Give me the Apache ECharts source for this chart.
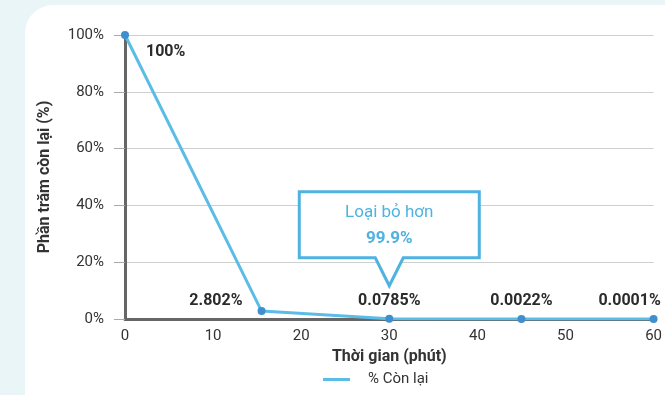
<!DOCTYPE html>
<html><head><meta charset="utf-8">
<script src="https://cdn.jsdelivr.net/npm/echarts@6/dist/echarts.min.js"></script>
<style>html,body{margin:0;padding:0;background:#eaf5f8;}#c{width:665px;height:395px;}</style>
</head><body><div id="c"></div>
<script>
const minutes = [0, 15.5, 30, 45, 60];
const remaining = [100, 2.802, 0.0785, 0.0022, 0.0001];
const pointLabels = ['100%', '2.802%', '0.0785%', '0.0022%', '0.0001%'];
const seriesName = '% Còn lại';
const calloutLine1 = 'Loại bỏ hơn';
const calloutLine2 = '99.9%';
const FONT = '"Roboto", sans-serif';

const chart = echarts.init(document.getElementById('c'));
const labelCfg = [
  {position: 'right', offset: [12, 17]},
  {position: 'left', offset: [-10, -10]},
  {position: 'top', offset: [0, -1]},
  {position: 'top', offset: [0, -1]},
  {position: 'top', offset: [-24, -1]}
];
const data = minutes.map((m, i) => ({
  value: [m, remaining[i]],
  label: Object.assign({show: true, formatter: pointLabels[i]}, labelCfg[i])
}));
const panel = {type: 'rect', z: -10, shape: {x: 25, y: 5, width: 700, height: 440, r: 28}, style: {fill: '#ffffff'}};
chart.setOption({
  backgroundColor: '#eaf5f8',
  graphic: [panel],
  grid: {left: 125, right: 7, top: 35, bottom: 76},
  legend: {bottom: 3, left: 318, itemWidth: 27, itemHeight: 3,
    icon: 'rect', data: [seriesName],
    itemStyle: {color: '#5bbde6'},
    textStyle: {fontFamily: FONT, fontSize: 15, color: '#333', padding: [0, 0, 0, 13]}},
  xAxis: {type: 'value', min: 0, max: 60, interval: 10,
    name: 'Thời gian (phút)', nameLocation: 'middle', nameGap: 30,
    nameTextStyle: {fontFamily: FONT, fontSize: 16, fontWeight: 'bold', color: '#333'},
    axisLine: {lineStyle: {color: '#666', width: 3}},
    axisTick: {show: false},
    axisLabel: {fontFamily: FONT, fontSize: 15, color: '#333', margin: 10},
    splitLine: {show: false}},
  yAxis: {type: 'value', min: 0, max: 100, interval: 20,
    name: 'Phần trăm còn lại (%)', nameLocation: 'middle', nameGap: 72, nameRotate: 90,
    nameTextStyle: {fontFamily: FONT, fontSize: 16, fontWeight: 'bold', color: '#333'},
    axisLine: {show: true, lineStyle: {color: '#666', width: 3}},
    axisTick: {show: true, length: 11, lineStyle: {color: '#aaa'}},
    axisLabel: {fontFamily: FONT, fontSize: 15, color: '#333', margin: 21, formatter: '{value}%'},
    splitLine: {lineStyle: {color: '#cfcfcf', width: 1}}},
  series: [{
    name: seriesName, type: 'line', data: data,
    lineStyle: {color: '#5bbde6', width: 3},
    itemStyle: {color: '#3f8fcf'},
    symbol: 'circle', symbolSize: 8,
    label: {fontFamily: FONT, fontSize: 16, fontWeight: 'bold', color: '#2b2b2b'}
  }]
});

const p = chart.convertToPixel({gridIndex: 0}, [minutes[2], remaining[2]]);
const tipX = p[0], tipY = p[1] - 33;
const bw = 180, bh = 66, boxBottom = tipY - 28, boxTop = boxBottom - bh;
const L = tipX - bw / 2, R = tipX + bw / 2;
chart.setOption({
  graphic: [
    panel,
    {type: 'polygon', z: 50, shape: {points: [[L, boxTop], [R, boxTop], [R, boxBottom], [tipX + 14, boxBottom], [tipX, tipY], [tipX - 14, boxBottom], [L, boxBottom]]},
     style: {fill: '#ffffff', stroke: '#4fb3e0', lineWidth: 3}},
    {type: 'text', z: 51, x: tipX, y: boxTop + 21, style: {text: calloutLine1, fill: '#4fb3e0', font: '17px ' + FONT, align: 'center', verticalAlign: 'middle'}},
    {type: 'text', z: 51, x: tipX, y: boxTop + 47, style: {text: calloutLine2, fill: '#4fb3e0', font: 'bold 17px ' + FONT, align: 'center', verticalAlign: 'middle'}}
  ]
});
</script></body></html>
